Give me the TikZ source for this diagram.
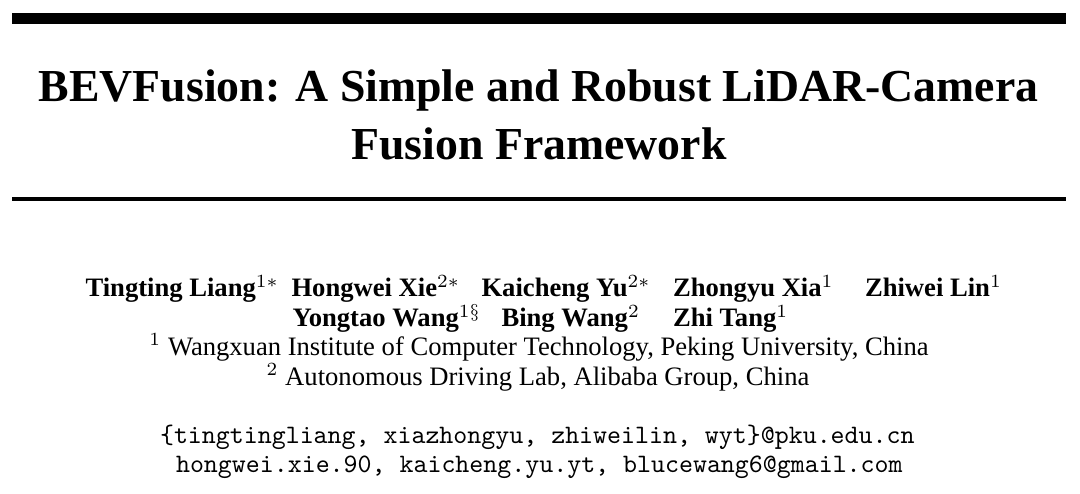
\documentclass[tikz,border=0pt]{standalone}
\usepackage{fontspec}
\setmainfont{Liberation Serif}
\begin{document}
\begin{tikzpicture}[x=0.37571pt,y=-0.37571pt,
  title/.style={inner sep=0pt,anchor=base,font=\fontsize{17.2}{22}\selectfont\bfseries},
  author/.style={inner sep=0pt,anchor=base west,font=\fontsize{10}{12}\selectfont\bfseries},
  affil/.style={inner sep=0pt,anchor=base,font=\fontsize{10}{12}\selectfont},
  mail/.style={inner sep=0pt,anchor=base west,font=\fontsize{10}{12}\selectfont\ttfamily}]
\useasboundingbox (0,0) rectangle (1080,494);
\fill[white] (0,0) rectangle (1080,494);
% rules
\fill[black] (12,13.3) rectangle (1066,24);
\fill[black] (12,197.5) rectangle (1066,200.6);
% title
\node[title] (t1) at (538.5,102) {BEVFusion: A Simple and Robust LiDAR-Camera};
\node[title] (t2) at (539,160) {Fusion Framework};
% authors line 1
\node[author] (a1) at (85,296.7) {Tingting Liang$^{1*}$};
\node[author] (a2) at (291,296.7) {Hongwei Xie$^{2*}$};
\node[author] (a3) at (481,296.7) {Kaicheng Yu$^{2*}$};
\node[author] (a4) at (672.5,296.7) {Zhongyu Xia$^{1}$};
\node[author] (a5) at (864.5,296.7) {Zhiwei Lin$^{1}$};
% authors line 2
\node[author] (a6) at (292,326.7) {Yongtao Wang$^{1\S}$};
\node[author] (a7) at (501,326.7) {Bing Wang$^{2}$};
\node[author] (a8) at (672.5,326.7) {Zhi Tang$^{1}$};
% affiliations
\node[affil] (f1) at (539,355.5) {$^{1}$ Wangxuan Institute of Computer Technology, Peking University, China};
\node[affil] (f2) at (538,385.5) {$^{2}$ Autonomous Driving Lab, Alibaba Group, China};
% emails
\node[mail] (m1) at (159.5,443.5) {\{tingtingliang, xiazhongyu, zhiweilin, wyt\}@pku.edu.cn};
\node[mail] (m2) at (175.5,472) {hongwei.xie.90, kaicheng.yu.yt, blucewang6@gmail.com};
\end{tikzpicture}
\end{document}
